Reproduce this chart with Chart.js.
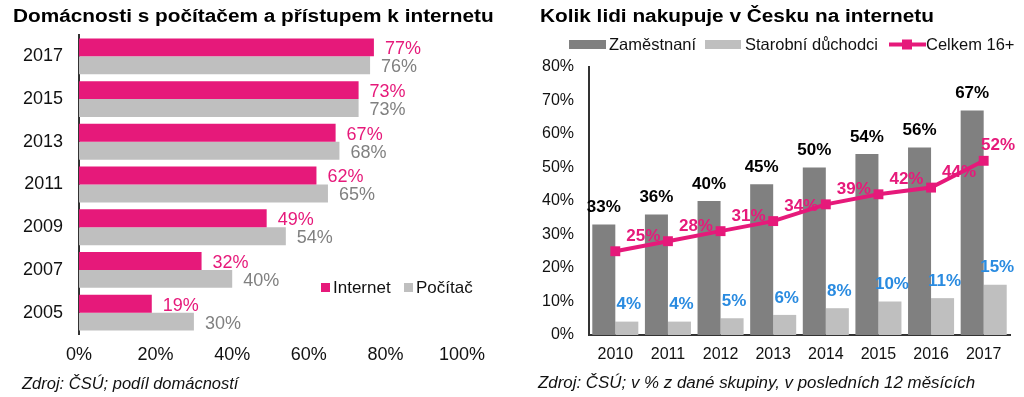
<!DOCTYPE html>
<html>
<head>
<meta charset="utf-8">
<script src="https://cdn.jsdelivr.net/npm/chart.js@4.4.1/dist/chart.umd.min.js"></script>
<style>
  body { margin: 0; background: #fff; width: 1024px; height: 397px; overflow: hidden; position: relative;
         font-family: "Liberation Sans", Arial, sans-serif; color: #000; }
  .panel { position: absolute; top: 0; width: 512px; height: 397px; }
  #leftPanel { left: 0; }
  #rightPanel { left: 512px; }
  canvas { position: absolute; left: 0; top: 0; }
  .title { position: absolute; top: 6px; font-size: 18px; font-weight: bold; line-height: 20px; white-space: nowrap;
           transform: scaleX(1.155); transform-origin: left center; }
  .source { position: absolute; top: 374px; font-size: 16.5px; font-style: italic; line-height: 18px; white-space: nowrap; color: #111; }
</style>
</head>
<body>
<div class="panel" id="leftPanel">
  <canvas id="homeChart" width="512" height="397"></canvas>
  <div class="title" style="left:13px">Domácnosti s počítačem a přístupem k internetu</div>
  <div class="source" style="left:22px">Zdroj: ČSÚ; podíl domácností</div>
</div>
<div class="panel" id="rightPanel">
  <canvas id="shopChart" width="512" height="397"></canvas>
  <div class="title" style="left:28px">Kolik lidi nakupuje v Česku na internetu</div>
  <div class="source" style="left:26px;font-size:16.9px">Zdroj: ČSÚ; v % z dané skupiny, v posledních 12 měsících</div>
</div>

<script>
/* ── Data ── */
const homeYears      = ["2017", "2015", "2013", "2011", "2009", "2007", "2005"];
const internetShare  = [77, 73, 67, 62, 49, 32, 19];
const computerShare  = [76, 73, 68, 65, 54, 40, 30];

const shopYears      = ["2010", "2011", "2012", "2013", "2014", "2015", "2016", "2017"];
const employedShare  = [33, 36, 40, 45, 50, 54, 56, 67];
const retireeShare   = [4, 4, 5, 6, 8, 10, 11, 15];
const totalShare     = [25, 28, 31, 34, 39, 42, 44, 52];

/* ── Colours ── */
const PINK  = "#E6197A";
const DARK  = "#808080";
const LIGHT = "#BFBFBF";
const BLUE  = "#2A8BE0";
const FONT  = "'Liberation Sans', Arial, sans-serif";

Chart.defaults.font.family = FONT;
Chart.defaults.color = "#111";
Chart.defaults.animation = false;

const pct = (v) => v + "%";

// ── Left chart: labels + legend ─────────────────────────────────────────────
const homeLabels = {
  id: "homeLabels",
  afterDatasetsDraw(chart) {
    const ctx = chart.ctx;
    ctx.save();
    ctx.font = "18px " + FONT;
    ctx.textAlign = "left";
    ctx.textBaseline = "middle";
    chart.data.datasets.forEach((ds, i) => {
      ctx.fillStyle = i === 0 ? PINK : "#808080";
      chart.getDatasetMeta(i).data.forEach((bar, j) => {
        ctx.fillText(pct(ds.data[j]), bar.x + 11, bar.y + 2);
      });
    });

    // legend inside plot area
    const items = [["Internet", PINK, 321], ["Počítač", LIGHT, 404]];
    ctx.font = "17px " + FONT;
    items.forEach(([txt, col, x]) => {
      ctx.fillStyle = col;
      ctx.fillRect(x, 283, 9, 9);
      ctx.fillStyle = "#111";
      ctx.fillText(txt, x + 12, 288);
    });
    ctx.restore();
  },
};

new Chart(document.getElementById("homeChart"), {
  type: "bar",
  data: {
    labels: homeYears,
    datasets: [
      { label: "Internet", data: internetShare, backgroundColor: PINK },
      { label: "Počítač", data: computerShare, backgroundColor: LIGHT },
    ],
  },
  options: {
    indexAxis: "y",
    responsive: false,
    categoryPercentage: 0.84,
    barPercentage: 1,
    layout: { padding: { top: 35, right: 50, bottom: 23, left: 0 } },
    plugins: { legend: { display: false }, tooltip: { enabled: false } },
    scales: {
      x: {
        min: 0, max: 100,
        grid: { display: false, drawTicks: false },
        border: { display: false },
        ticks: { stepSize: 20, callback: pct, font: { size: 18 }, padding: 10, color: "#111" },
        afterFit(s) { s.height = 40; },
      },
      y: {
        grid: { display: false, drawTicks: false },
        border: { display: true, color: "#333", width: 2 },
        ticks: { font: { size: 18 }, padding: 16, color: "#111" },
        afterFit(s) { s.width = 79; },
      },
    },
  },
  plugins: [homeLabels],
});

// ── Right chart: labels + legend ────────────────────────────────────────────
const shopLabels = {
  id: "shopLabels",
  afterDatasetsDraw(chart) {
    const ctx = chart.ctx;
    const area = chart.chartArea;
    ctx.save();
    ctx.font = "bold 17px " + FONT;
    ctx.textAlign = "center";
    ctx.textBaseline = "middle";

    chart.getDatasetMeta(0).data.forEach((bar, j) => {
      ctx.fillStyle = "#000";
      ctx.fillText(pct(employedShare[j]), bar.x, bar.y - 17);
    });
    chart.getDatasetMeta(1).data.forEach((bar, j) => {
      ctx.fillStyle = BLUE;
      ctx.fillText(pct(retireeShare[j]), bar.x + 2, bar.y - 17);
    });
    chart.getDatasetMeta(2).data.forEach((pt, j) => {
      ctx.fillStyle = PINK;
      ctx.fillText(pct(totalShare[j]), Math.min(pt.x + 28, area.right - 12), pt.y - 15);
    });

    // legend row
    ctx.font = "16.5px " + FONT;
    ctx.textAlign = "left";
    ctx.fillStyle = DARK;
    ctx.fillRect(57, 40, 37, 9);
    ctx.fillStyle = LIGHT;
    ctx.fillRect(193, 40, 36, 9);
    ctx.strokeStyle = PINK;
    ctx.lineWidth = 4;
    ctx.beginPath();
    ctx.moveTo(377, 44.5);
    ctx.lineTo(414, 44.5);
    ctx.stroke();
    ctx.fillStyle = PINK;
    ctx.fillRect(390, 39.5, 10, 10);
    ctx.fillStyle = "#111";
    ctx.fillText("Zaměstnaní", 97, 45);
    ctx.fillText("Starobní důchodci", 233, 45);
    ctx.fillText("Celkem 16+", 414, 45);
    ctx.restore();
  },
};

new Chart(document.getElementById("shopChart"), {
  data: {
    labels: shopYears,
    datasets: [
      { type: "bar", label: "Zaměstnaní", data: employedShare, backgroundColor: DARK, order: 1 },
      { type: "bar", label: "Starobní důchodci", data: retireeShare, backgroundColor: LIGHT, order: 1 },
      {
        type: "line", label: "Celkem 16+", data: totalShare, order: 0,
        borderColor: PINK, borderWidth: 4, backgroundColor: PINK,
        pointStyle: "rect", pointRadius: 7, pointBorderWidth: 0, tension: 0,
      },
    ],
  },
  options: {
    responsive: false,
    categoryPercentage: 0.875,
    barPercentage: 1,
    layout: { padding: { top: 67, right: 14, bottom: 22, left: 0 } },
    plugins: { legend: { display: false }, tooltip: { enabled: false } },
    scales: {
      x: {
        grid: { display: false, drawTicks: false },
        border: { display: true, color: "#333", width: 2 },
        ticks: { font: { size: 16 }, padding: 10, color: "#111" },
        afterFit(s) { s.height = 40; },
      },
      y: {
        min: 0, max: 80,
        grid: { display: false, drawTicks: false },
        border: { display: true, color: "#333", width: 2 },
        ticks: { stepSize: 10, callback: pct, font: { size: 16 }, padding: 15, color: "#111" },
        afterFit(s) { s.width = 77; },
      },
    },
  },
  plugins: [shopLabels],
});
</script>
</body>
</html>
